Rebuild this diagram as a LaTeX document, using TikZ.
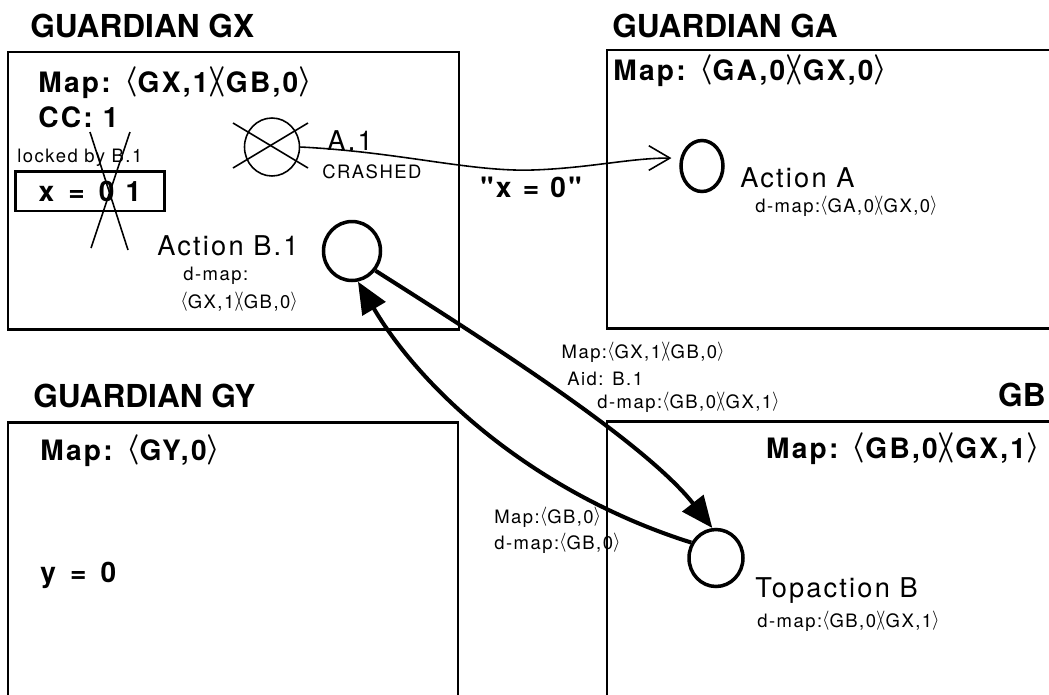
\documentclass[tikz,border=0pt]{standalone}
\usepackage{fontspec}
\setmainfont{TeX Gyre Heros}
\newfontfamily\trk[LetterSpace=8]{TeX Gyre Heros}
\usetikzlibrary{arrows.meta,shapes.geometric}
\newcommand{\mapl}{\raisebox{0.08em}{$\langle$}}
\newcommand{\mapr}{\raisebox{0.08em}{$\rangle$}}
\newcommand{\mapx}{\raisebox{0.08em}{$\rangle\mkern-5mu\langle$}}

\begin{document}
\begin{tikzpicture}[x=0.02cm,y=-0.02cm,
  gbox/.style={line width=1.7pt},
  gtitle/.style={anchor=base west,inner sep=0pt,font=\bfseries\fontsize{18}{20}\selectfont},
  mapline/.style={anchor=base west,inner sep=0pt,font=\trk\bfseries\boldmath\fontsize{16}{18}\selectfont},
  actlabel/.style={anchor=base west,inner sep=0pt,font=\trk\fontsize{15.5}{18}\selectfont},
  notelabel/.style={anchor=base west,inner sep=0pt,font=\trk\fontsize{10.5}{12}\selectfont},
  actcircle/.style={draw,ellipse,line width=2pt,inner sep=0pt},
  crossline/.style={line width=0.9pt},
  ctrlarrow/.style={line width=2.3pt,-{Triangle[length=18pt,width=15pt]}},
  msgarrow/.style={line width=0.9pt,-{Straight Barb[length=12pt,width=14pt]}}]
\useasboundingbox (0,0) rectangle (1049,694);
\clip (0,0) rectangle (1049,694);

% guardian boxes
\draw[gbox] (8,52) rectangle (459,329);
\draw[gbox] (607,50) rectangle (1060,328);
\draw[gbox] (8,422) rectangle (458,700);
\draw[gbox] (607,421) rectangle (1060,700);
\node[gtitle] (tgx) at (30,37) {GUARDIAN GX};
\node[gtitle] (tga) at (612,37) {GUARDIAN GA};
\node[gtitle] (tgy) at (33,407) {GUARDIAN GY};
\node[gtitle,anchor=base east] (tgb) at (1046,406) {GB};

% guardian GX
\node[mapline] (mgx) at (38,92) {Map: \mapl GX,1\mapx GB,0\mapr};
\node[mapline] (cc) at (38,127) {CC: 1};
\node[notelabel] (lock) at (17,162) {locked by B.1};
\node[mapline,anchor=center,draw,line width=1.7pt,minimum width=3cm,minimum height=0.8cm] (xval) at (90,191)
  {x\hspace{0.5em}=\hspace{0.5em}0\hspace{0.4em}1};
\draw[crossline] (90,132) -- (128,250);
\draw[crossline] (130,132) -- (91,248);
\node[actcircle,line width=0.9pt,minimum width=1.1cm,minimum height=1.16cm] (a1) at (272,147) {};
\draw[crossline] (233,123) -- (308,168);
\draw[crossline] (308,123) -- (233,168);
\node[actlabel] (la1) at (327,150) {A.1};
\node[notelabel] (crash) at (322,178) {CRASHED};
\node[actcircle,minimum width=1.14cm,minimum height=1.18cm] (b1) at (352,251) {};
\node[actlabel] (lb1) at (157,255) {Action B.1};
\node[notelabel] (db1) at (183,280) {d-map:};
\node[notelabel] (db1m) at (180,308) {\mapl GX,1\mapx GB,0\mapr};

% guardian GA
\node[mapline] (mga) at (613,80) {Map: \mapl GA,0\mapx GX,0\mapr};
\node[actcircle,minimum width=0.84cm,minimum height=1.02cm] (aA) at (702,166) {};
\node[actlabel] (laA) at (740,187) {Action A};
\node[notelabel] (daA) at (755,212) {d-map:\mapl GA,0\mapx GX,0\mapr};

% guardian GY
\node[mapline] (mgy) at (40,460) {Map: \mapl GY,0\mapr};
\node[mapline] (yval) at (40,582) {y\hspace{0.5em}=\hspace{0.5em}0};

% guardian GB
\node[mapline,anchor=base east] (mgb) at (1040,458) {Map: \mapl GB,0\mapx GX,1\mapr};
\node[actcircle,minimum width=1.08cm,minimum height=1.14cm] (topB) at (716,558) {};
\node[actlabel] (ltB) at (755,597) {Topaction B};
\node[notelabel] (dtB) at (757,627) {d-map:\mapl GB,0\mapx GX,1\mapr};

% messages
\draw[msgarrow,shorten >=5pt] (a1.east) .. controls (400,152) and (470,172) .. (533,170)
  .. controls (590,168) and (630,158) .. (aA.160);
\node[mapline] (xmsg) at (480,197) {"x\hspace{0.4em}=\hspace{0.4em}0"};
\draw[ctrlarrow] (b1.-40) .. controls (480,337) and (644,441) .. (topB.97);
\draw[ctrlarrow] (topB.148) .. controls (540,495) and (425,395) .. (b1.-79);
\node[notelabel,anchor=base east] (rq1) at (725,358) {Map:\mapl GX,1\mapx GB,0\mapr};
\node[notelabel] (rq2) at (567,385) {Aid: B.1};
\node[notelabel] (rq3) at (597,408) {d-map:\mapl GB,0\mapx GX,1\mapr};
\node[notelabel] (rp1) at (494,523) {Map:\mapl GB,0\mapr};
\node[notelabel] (rp2) at (494,549) {d-map:\mapl GB,0\mapr};
\end{tikzpicture}
\end{document}
